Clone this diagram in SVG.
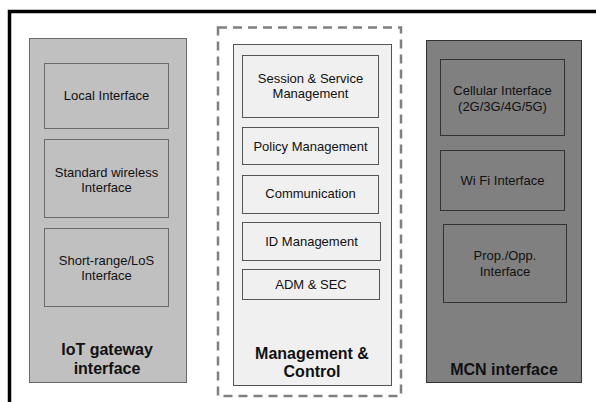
<svg xmlns="http://www.w3.org/2000/svg" width="596" height="402" viewBox="0 0 596 402">
<style>
text{font-family:"Liberation Sans",Arial,sans-serif;fill:#111;text-anchor:middle}
.s{font-size:13px}
.b{font-size:16px;font-weight:bold}
.lbox{fill:#c0c0c0;stroke:#6a6a6a;stroke-width:1}
.mbox{fill:#f0f0f0;stroke:#555;stroke-width:1}
.rbox{fill:#808080;stroke:#333;stroke-width:1}
</style>
<rect width="596" height="402" fill="#fff"/>
<path d="M9.5 402V11.5H596" fill="none" stroke="#000" stroke-width="3.5"/>
<g id="iot">
<rect class="lbox" x="29.5" y="38.5" width="157" height="344"/>
<text class="b" x="107" y="355">IoT gateway</text>
<text class="b" x="107" y="374">interface</text>
</g>
<g id="local"><rect class="lbox" x="44.5" y="63.5" width="124" height="65"/><text class="s" x="106.5" y="100">Local Interface</text></g>
<g id="wireless"><rect class="lbox" x="44.5" y="139.5" width="124" height="78"/><text class="s" x="106.5" y="177">Standard wireless</text><text class="s" x="106.5" y="192">Interface</text></g>
<g id="shortrange"><rect class="lbox" x="44.5" y="228.5" width="124" height="78"/><text class="s" x="106.5" y="265">Short-range/LoS</text><text class="s" x="106.5" y="280">Interface</text></g>
<g id="mgmt">
<rect x="218" y="27.5" width="183" height="368.5" fill="none" stroke="#808080" stroke-width="2.5" stroke-dasharray="9,6"/>
<rect class="mbox" x="233.5" y="44.5" width="158" height="341"/>
<text class="b" x="312" y="359">Management &amp;</text>
<text class="b" x="312" y="377">Control</text>
</g>
<g id="session"><rect class="mbox" x="242.5" y="55.5" width="136" height="62"/><text class="s" x="310.5" y="83">Session &amp; Service</text><text class="s" x="310.5" y="98">Management</text></g>
<g id="policy"><rect class="mbox" x="242.5" y="127.5" width="136" height="37"/><text class="s" x="310.5" y="151">Policy Management</text></g>
<g id="comm"><rect class="mbox" x="242.5" y="175.5" width="136" height="38"/><text class="s" x="310.5" y="198">Communication</text></g>
<g id="idm"><rect class="mbox" x="242.5" y="222.5" width="138" height="38"/><text class="s" x="311.5" y="246">ID Management</text></g>
<g id="adm"><rect class="mbox" x="242.5" y="269.5" width="137" height="30"/><text class="s" x="311" y="289">ADM &amp; SEC</text></g>
<g id="mcn">
<rect class="rbox" x="426.5" y="40.5" width="155" height="342"/>
<text class="b" x="504" y="375">MCN interface</text>
</g>
<g id="cellular"><rect class="rbox" x="440.5" y="59.5" width="124" height="76"/><text class="s" x="502.5" y="95">Cellular Interface</text><text class="s" x="502.5" y="111">(2G/3G/4G/5G)</text></g>
<g id="wifi"><rect class="rbox" x="440.5" y="150.5" width="124" height="60"/><text class="s" x="502.5" y="185">Wi Fi Interface</text></g>
<g id="prop"><rect class="rbox" x="443.5" y="224.5" width="123" height="78"/><text class="s" x="505" y="260">Prop./Opp.</text><text class="s" x="505" y="276">Interface</text></g>
<g id="connectors"/>
</svg>
